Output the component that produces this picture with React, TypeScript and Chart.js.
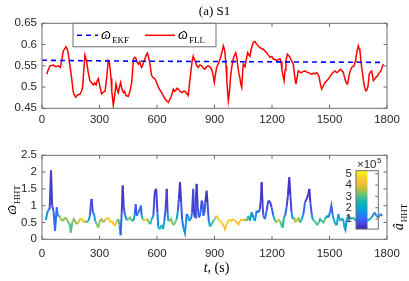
import React, { useEffect, useRef } from "react";
import { Chart, registerables } from "chart.js";
Chart.register(...registerables);

// ---------- data ----------
const X_TICKS = [0, 300, 600, 900, 1200, 1500, 1800];
const TOP_Y_TICKS = [0.45, 0.5, 0.55, 0.6, 0.65];
const BOT_Y_TICKS = [0, 0.5, 1, 1.5, 2, 2.5];
const CB_TICKS = [1, 2, 3, 4, 5];
const CB_MIN = 0.12;
const CB_MAX = 5.26;

const EKF_T = [0, 450, 900, 1350, 1780];
const EKF_V = [0.563, 0.561, 0.56, 0.559, 0.558];

const FLL_T = [25, 32, 42, 59, 72, 85, 96, 104, 111, 118, 125, 131, 137, 146, 155, 163, 170, 177, 186, 198, 206, 212, 218, 224, 233, 241, 250, 259, 268, 275, 282, 288, 294, 303, 311, 320, 329, 337, 346, 351, 355, 360, 364, 372, 379, 386, 392, 398, 404, 410, 417, 425, 431, 438, 450, 459, 468, 473, 477, 484, 490, 497, 503, 510, 515, 520, 526, 532, 537, 543, 550, 556, 561, 566, 572, 580, 590, 598, 607, 616, 624, 633, 642, 650, 659, 666, 673, 679, 685, 691, 697, 704, 711, 720, 729, 737, 746, 755, 763, 770, 777, 783, 789, 795, 802, 808, 815, 824, 833, 841, 850, 859, 868, 876, 885, 892, 899, 905, 911, 920, 929, 938, 946, 951, 955, 960, 964, 968, 972, 978, 985, 991, 998, 1004, 1011, 1016, 1020, 1026, 1033, 1038, 1042, 1046, 1050, 1055, 1059, 1066, 1073, 1080, 1085, 1092, 1102, 1111, 1120, 1129, 1138, 1146, 1155, 1163, 1172, 1181, 1190, 1199, 1207, 1216, 1224, 1233, 1242, 1247, 1252, 1258, 1263, 1268, 1273, 1280, 1287, 1294, 1302, 1311, 1316, 1320, 1325, 1330, 1337, 1346, 1355, 1363, 1372, 1381, 1390, 1398, 1407, 1416, 1425, 1433, 1440, 1446, 1452, 1459, 1468, 1477, 1486, 1494, 1503, 1511, 1520, 1529, 1537, 1546, 1552, 1558, 1565, 1572, 1577, 1581, 1587, 1594, 1599, 1603, 1610, 1616, 1622, 1629, 1634, 1638, 1644, 1650, 1655, 1659, 1663, 1668, 1673, 1677, 1683, 1689, 1695, 1700, 1704, 1707, 1713, 1720, 1725, 1729, 1735, 1742, 1748, 1755, 1762, 1768, 1775, 1781];
const FLL_V = [0.53, 0.54, 0.55, 0.552, 0.548, 0.55, 0.546, 0.565, 0.585, 0.59, 0.595, 0.59, 0.58, 0.55, 0.52, 0.488, 0.48, 0.476, 0.482, 0.483, 0.49, 0.5, 0.54, 0.575, 0.56, 0.535, 0.515, 0.51, 0.505, 0.51, 0.505, 0.515, 0.52, 0.5, 0.484, 0.488, 0.49, 0.52, 0.562, 0.558, 0.546, 0.52, 0.49, 0.457, 0.48, 0.507, 0.495, 0.487, 0.5, 0.511, 0.495, 0.487, 0.49, 0.48, 0.478, 0.49, 0.511, 0.54, 0.566, 0.57, 0.568, 0.558, 0.554, 0.56, 0.55, 0.546, 0.553, 0.56, 0.566, 0.575, 0.58, 0.57, 0.56, 0.545, 0.527, 0.522, 0.519, 0.51, 0.5, 0.493, 0.487, 0.48, 0.472, 0.468, 0.464, 0.47, 0.476, 0.485, 0.495, 0.49, 0.492, 0.497, 0.495, 0.49, 0.487, 0.49, 0.49, 0.485, 0.48, 0.51, 0.538, 0.56, 0.573, 0.565, 0.558, 0.55, 0.546, 0.552, 0.55, 0.545, 0.542, 0.548, 0.55, 0.547, 0.542, 0.53, 0.511, 0.53, 0.546, 0.555, 0.566, 0.58, 0.597, 0.59, 0.58, 0.55, 0.519, 0.49, 0.468, 0.49, 0.53, 0.55, 0.566, 0.575, 0.581, 0.57, 0.555, 0.535, 0.519, 0.505, 0.499, 0.53, 0.554, 0.55, 0.548, 0.565, 0.581, 0.575, 0.573, 0.59, 0.605, 0.607, 0.601, 0.596, 0.593, 0.59, 0.589, 0.585, 0.581, 0.575, 0.57, 0.572, 0.566, 0.565, 0.562, 0.565, 0.566, 0.56, 0.54, 0.525, 0.515, 0.54, 0.562, 0.577, 0.574, 0.57, 0.562, 0.554, 0.535, 0.52, 0.507, 0.52, 0.538, 0.535, 0.534, 0.537, 0.538, 0.535, 0.534, 0.532, 0.53, 0.533, 0.531, 0.534, 0.53, 0.523, 0.508, 0.495, 0.503, 0.511, 0.515, 0.519, 0.525, 0.53, 0.535, 0.538, 0.534, 0.536, 0.54, 0.542, 0.538, 0.535, 0.525, 0.519, 0.51, 0.507, 0.518, 0.53, 0.54, 0.546, 0.548, 0.55, 0.56, 0.57, 0.585, 0.597, 0.59, 0.585, 0.565, 0.546, 0.53, 0.515, 0.5, 0.491, 0.493, 0.5, 0.515, 0.53, 0.535, 0.538, 0.525, 0.515, 0.518, 0.523, 0.525, 0.53, 0.535, 0.538, 0.547, 0.554];

const HHT_T = [20, 30, 40, 47, 53, 60, 68, 77, 83, 94, 103, 111, 120, 129, 138, 146, 150, 158, 166, 172, 181, 190, 199, 207, 216, 224, 233, 242, 250, 255, 259, 265, 272, 277, 285, 294, 302, 311, 320, 329, 338, 346, 355, 364, 372, 381, 390, 398, 405, 410, 416, 421, 426, 432, 442, 450, 459, 468, 477, 484, 489, 494, 503, 511, 516, 520, 525, 533, 542, 550, 557, 565, 572, 581, 586, 590, 596, 602, 607, 614, 624, 632, 638, 645, 651, 655, 659, 666, 673, 680, 688, 694, 703, 709, 714, 720, 726, 731, 737, 746, 751, 755, 762, 768, 777, 783, 789, 794, 799, 803, 807, 812, 818, 824, 829, 833, 838, 842, 848, 852, 859, 864, 870, 877, 885, 894, 903, 911, 920, 929, 937, 946, 955, 963, 972, 981, 990, 998, 1007, 1016, 1025, 1033, 1042, 1050, 1059, 1068, 1077, 1085, 1094, 1103, 1111, 1120, 1129, 1137, 1142, 1146, 1151, 1155, 1163, 1172, 1181, 1190, 1198, 1207, 1216, 1225, 1233, 1242, 1250, 1256, 1262, 1268, 1276, 1283, 1290, 1296, 1302, 1308, 1316, 1322, 1329, 1338, 1346, 1355, 1364, 1372, 1381, 1390, 1395, 1400, 1407, 1412, 1420, 1428, 1436, 1444, 1451, 1459, 1468, 1477, 1486, 1494, 1503, 1510, 1516, 1522, 1530, 1538, 1546, 1552, 1558, 1566, 1572, 1578, 1583, 1590, 1600, 1610, 1620, 1640, 1660, 1680, 1700, 1720, 1735, 1745, 1755, 1765, 1775];
const HHT_V = [0.57, 0.85, 0.9, 2.05, 1.0, 0.85, 0.25, 0.95, 0.7, 0.68, 0.55, 0.57, 0.65, 0.6, 0.5, 0.42, 0.2, 0.5, 0.6, 0.55, 0.45, 0.5, 0.6, 0.62, 0.5, 0.55, 0.5, 0.55, 0.7, 1.05, 1.2, 0.8, 0.75, 0.55, 0.45, 0.35, 0.55, 0.6, 0.5, 0.58, 0.62, 0.65, 0.5, 0.55, 0.45, 0.4, 0.55, 0.6, 0.4, 0.12, 0.8, 1.6, 1.0, 0.75, 0.57, 0.6, 0.65, 0.55, 0.55, 0.75, 1.05, 0.7, 0.8, 0.9, 1.0, 0.7, 0.6, 0.55, 0.6, 0.6, 0.5, 0.45, 0.6, 0.7, 1.2, 1.45, 1.5, 0.8, 0.35, 0.3, 0.42, 0.3, 0.55, 0.9, 1.5, 0.8, 0.55, 0.55, 0.6, 0.48, 0.42, 0.5, 0.6, 0.85, 1.2, 1.7, 1.1, 0.6, 0.35, 0.18, 0.5, 0.75, 0.7, 0.55, 0.6, 0.8, 1.5, 0.7, 0.65, 1.2, 1.65, 1.0, 0.65, 0.7, 0.9, 1.15, 1.1, 0.7, 0.8, 1.1, 1.45, 1.05, 0.55, 0.38, 0.45, 0.55, 0.62, 0.7, 0.6, 0.55, 0.5, 0.42, 0.3, 0.45, 0.55, 0.58, 0.55, 0.6, 0.55, 0.5, 0.45, 0.55, 0.6, 0.55, 0.6, 0.55, 0.7, 0.55, 0.8, 0.65, 0.55, 0.85, 0.8, 0.9, 1.2, 1.7, 1.0, 0.7, 0.6, 0.85, 1.15, 1.12, 0.95, 0.7, 0.55, 0.5, 0.6, 0.55, 0.4, 0.35, 0.65, 0.7, 0.95, 1.3, 1.85, 1.3, 0.8, 0.6, 0.65, 0.5, 0.55, 0.65, 0.5, 0.6, 0.75, 1.1, 1.2, 1.35, 1.5, 1.1, 0.75, 0.6, 0.55, 0.5, 0.42, 0.5, 0.6, 0.55, 0.5, 0.6, 0.7, 0.65, 0.8, 1.0, 0.75, 0.6, 0.45, 0.42, 0.75, 0.6, 0.55, 0.62, 0.58, 0.35, 0.28, 0.6, 0.7, 0.6, 0.65, 0.55, 0.7, 0.6, 0.55, 0.65, 0.8, 0.7, 0.65, 0.75, 0.7];
const HHT_A = [2.4, 1.3, 0.8, 0.3, 0.5, 0.8, 1.2, 0.9, 1.5, 3.4, 3.6, 3.3, 3.6, 3.4, 3.2, 3.0, 2.8, 3.2, 3.6, 3.2, 3.6, 3.6, 4.4, 4.8, 4.3, 3.6, 3.4, 2.6, 1.2, 0.6, 0.4, 0.8, 1.2, 2.6, 3.2, 3.4, 3.6, 3.4, 3.6, 3.5, 4.2, 4.6, 4.8, 4.4, 4.2, 4.6, 3.6, 3.4, 2.4, 1.2, 0.6, 0.3, 0.5, 1.0, 2.6, 3.2, 3.4, 3.2, 2.8, 1.2, 0.6, 1.2, 1.3, 1.0, 0.6, 1.5, 3.5, 4.5, 4.2, 3.2, 3.2, 3.0, 2.6, 1.2, 0.4, 0.3, 0.3, 0.8, 2.2, 2.4, 2.8, 2.6, 1.2, 0.7, 0.3, 0.8, 2.8, 3.2, 3.4, 3.2, 3.2, 3.4, 3.0, 1.0, 0.5, 0.3, 0.5, 1.0, 1.4, 2.2, 1.4, 1.2, 1.2, 2.4, 2.2, 0.8, 0.3, 0.8, 1.0, 0.4, 0.3, 0.5, 1.0, 1.4, 0.8, 0.5, 0.6, 1.2, 1.0, 0.5, 0.3, 0.5, 1.2, 2.4, 2.8, 3.0, 3.2, 4.2, 4.6, 4.6, 4.4, 4.4, 4.2, 4.4, 4.8, 4.6, 4.4, 4.6, 4.2, 4.4, 4.2, 4.4, 4.6, 4.0, 3.6, 3.6, 2.8, 2.6, 1.4, 1.5, 2.4, 1.0, 1.0, 0.8, 0.4, 0.3, 0.5, 1.0, 1.2, 0.9, 0.4, 0.5, 0.6, 1.4, 3.2, 3.4, 4.4, 3.2, 3.2, 2.8, 2.2, 1.2, 0.8, 0.4, 0.3, 0.4, 0.8, 2.2, 3.0, 3.6, 4.6, 3.6, 3.0, 2.4, 1.3, 0.6, 0.4, 0.3, 0.3, 0.5, 1.2, 2.4, 3.0, 3.2, 3.0, 2.8, 2.6, 2.8, 3.2, 2.8, 2.2, 1.4, 1.2, 0.7, 1.2, 2.2, 2.6, 3.0, 1.4, 2.4, 2.6, 2.2, 2.4, 2.2, 1.4, 2.2, 1.4, 2.4, 2.2, 2.6, 1.4, 2.4, 2.6, 2.2, 1.2, 1.4, 2.2, 1.3, 1.4];

// ---------- style ----------
const TICK_FONT = { family: "'Liberation Sans', Arial, sans-serif", size: 11.5 };
const TICK_COLOR = "#262626";
const BOX_COLOR = "#6e6e6e";
const SERIF = "'Liberation Serif', 'DejaVu Serif', serif";

const PARULA: [number, number[]][] = [
  [0, [62, 38, 168]],
  [0.1, [71, 72, 225]],
  [0.2, [44, 115, 246]],
  [0.3, [20, 148, 225]],
  [0.4, [8, 172, 200]],
  [0.5, [40, 185, 165]],
  [0.6, [110, 195, 115]],
  [0.7, [200, 190, 60]],
  [0.8, [252, 190, 50]],
  [0.9, [245, 215, 40]],
  [1, [249, 251, 14]],
];
function parula(t: number) {
  t = Math.max(0, Math.min(1, t));
  for (let i = 1; i < PARULA.length; i++) {
    const [t1, c1] = PARULA[i];
    const [t0, c0] = PARULA[i - 1];
    if (t <= t1) {
      const f = (t - t0) / (t1 - t0);
      const c = c0.map((v, k) => Math.round(v + (c1[k] - v) * f));
      return `rgb(${c[0]},${c[1]},${c[2]})`;
    }
  }
  return "rgb(249,251,14)";
}
const ampColor = (a: number) => parula((a - CB_MIN) / (CB_MAX - CB_MIN));

function mathText(ctx: CanvasRenderingContext2D, x: number, y: number, main: string, sub: string, size: number, align: "left" | "center", hat: boolean) {
  const mf = `italic ${size}px ${SERIF}`;
  const sf = `${Math.round(size * 0.62)}px ${SERIF}`;
  ctx.font = mf;
  const w1 = ctx.measureText(main).width;
  ctx.font = sf;
  const w2 = ctx.measureText(sub).width;
  const x0 = align === "center" ? x - (w1 + w2 + 1) / 2 : x;
  ctx.textBaseline = "alphabetic";
  ctx.textAlign = "left";
  ctx.font = mf;
  ctx.fillText(main, x0, y);
  if (hat) {
    ctx.textAlign = "center";
    ctx.font = `${size * 1.1}px ${SERIF}`;
    ctx.fillText("\u02c6", x0 + w1 / 2 + size * 0.06, y + size * 0.12);
    ctx.textAlign = "left";
  }
  ctx.font = sf;
  ctx.fillText(sub, x0 + w1 + 1, y + size * 0.28);
  return w1 + w2 + 1;
}

function boxPlugin(id: string, tl: number, sides: { x?: boolean; y?: boolean; yRightOnly?: boolean }) {
  return {
    id,
    afterDatasetsDraw(chart: any) {
      const { ctx, chartArea: a, scales } = chart;
      ctx.save();
      ctx.strokeStyle = BOX_COLOR;
      ctx.lineWidth = 1;
      ctx.strokeRect(a.left, a.top, a.right - a.left, a.bottom - a.top);
      ctx.beginPath();
      if (sides.x && scales.x) {
        scales.x.ticks.forEach((t: any) => {
          const px = scales.x.getPixelForValue(t.value);
          ctx.moveTo(px, a.bottom);
          ctx.lineTo(px, a.bottom - tl);
          ctx.moveTo(px, a.top);
          ctx.lineTo(px, a.top + tl);
        });
      }
      if (sides.y && scales.y) {
        scales.y.ticks.forEach((t: any) => {
          const py = scales.y.getPixelForValue(t.value);
          if (!sides.yRightOnly) {
            ctx.moveTo(a.left, py);
            ctx.lineTo(a.left + tl, py);
          }
          ctx.moveTo(a.right, py);
          ctx.lineTo(a.right - tl, py);
        });
      }
      ctx.stroke();
      ctx.restore();
    },
  };
}

const xScale = (h: number, pad: number) => ({
  type: "linear" as const,
  min: 0,
  max: 1800,
  afterBuildTicks: (s: any) => {
    s.ticks = X_TICKS.map((v) => ({ value: v }));
  },
  afterFit: (s: any) => {
    s.height = h;
  },
  grid: { display: false, drawTicks: false },
  border: { display: false },
  ticks: {
    font: TICK_FONT,
    color: TICK_COLOR,
    padding: pad,
    maxRotation: 0,
    autoSkip: false,
    callback: (v: any) => String(v),
  },
});

const yScale = (min: number, max: number, ticks: number[], w: number, pad: number) => ({
  type: "linear" as const,
  min,
  max,
  afterBuildTicks: (s: any) => {
    s.ticks = ticks.map((v) => ({ value: v }));
  },
  afterFit: (s: any) => {
    s.width = w;
  },
  grid: { display: false, drawTicks: false },
  border: { display: false },
  ticks: {
    font: TICK_FONT,
    color: TICK_COLOR,
    padding: pad,
    autoSkip: false,
    callback: (v: any) => String(v),
  },
});

export default function App() {
  const topRef = useRef<HTMLCanvasElement>(null);
  const botRef = useRef<HTMLCanvasElement>(null);
  const cbRef = useRef<HTMLCanvasElement>(null);

  useEffect(() => {
    const charts: Chart[] = [];

    // ---------- top chart ----------
    const topTitle = {
      id: "topTitle",
      afterDraw(chart: any) {
        const { ctx, chartArea: a } = chart;
        ctx.save();
        ctx.fillStyle = "#000";
        ctx.font = `13px ${SERIF}`;
        ctx.textAlign = "center";
        ctx.textBaseline = "middle";
        ctx.fillText("(a) S1", (a.left + a.right) / 2, 12);
        ctx.restore();
      },
    };
    const topLegend = {
      id: "topLegend",
      afterDraw(chart: any) {
        const { ctx, chartArea: a } = chart;
        const ds = chart.data.datasets;
        const L = a.left + 31;
        const T = a.top;
        const W = 143;
        const H = 23.5;
        ctx.save();
        ctx.fillStyle = "#fff";
        ctx.fillRect(L, T, W, H);
        ctx.strokeStyle = BOX_COLOR;
        ctx.lineWidth = 1;
        ctx.strokeRect(L, T, W, H);
        const cy = T + 12;
        const items = [
          { d: ds[0], x: L + 4, len: 21, sub: "EKF" },
          { d: ds[1], x: L + 72, len: 30, sub: "FLL" },
        ];
        items.forEach((it) => {
          ctx.beginPath();
          ctx.strokeStyle = it.d.borderColor;
          ctx.lineWidth = it.d.borderWidth;
          ctx.setLineDash(it.d.borderDash || []);
          ctx.moveTo(it.x, cy);
          ctx.lineTo(it.x + it.len, cy);
          ctx.stroke();
          ctx.setLineDash([]);
          ctx.fillStyle = "#000";
          mathText(ctx, it.x + it.len + 3, cy + 4, "ω", it.sub, 14, "left", true);
        });
        ctx.restore();
      },
    };
    charts.push(
      new Chart(topRef.current!, {
        type: "line",
        data: {
          datasets: [
            {
              label: "EKF",
              data: EKF_T.map((t, i) => ({ x: t, y: EKF_V[i] })),
              borderColor: "#0000ff",
              borderWidth: 1.6,
              borderDash: [5, 4],
              pointRadius: 0,
              fill: false,
            },
            {
              label: "FLL",
              data: FLL_T.map((t, i) => ({ x: t, y: FLL_V[i] })),
              borderColor: "#ff0000",
              borderWidth: 1.5,
              pointRadius: 0,
              fill: false,
            },
          ] as any,
        },
        options: {
          responsive: false,
          animation: false,
          devicePixelRatio: 1,
          layout: { padding: { top: 23.3, right: 22, left: 0, bottom: 0 } },
          plugins: { legend: { display: false }, tooltip: { enabled: false }, title: { display: false } },
          scales: {
            x: xScale(26.7, 5),
            y: yScale(0.45, 0.65, TOP_Y_TICKS, 42, 5),
          } as any,
        },
        plugins: [boxPlugin("topBox", 3.5, { x: true, y: true }), topTitle, topLegend],
      })
    );

    // ---------- bottom chart ----------
    const botLabels = {
      id: "botLabels",
      afterDraw(chart: any) {
        const { ctx, chartArea: a } = chart;
        ctx.save();
        ctx.fillStyle = "#000";
        // y label
        ctx.save();
        ctx.translate(16, 60);
        ctx.rotate(-Math.PI / 2);
        mathText(ctx, 0, 0, "ω", "HHT", 14, "center", true);
        ctx.restore();
        // colorbar label
        ctx.save();
        ctx.translate(403, 77);
        ctx.rotate(-Math.PI / 2);
        mathText(ctx, 0, 0, "\u00e2", "HHT", 14, "center", false);
        ctx.restore();
        // x label
        const cx = (a.left + a.right) / 2;
        ctx.font = `italic 14px ${SERIF}`;
        const w1 = ctx.measureText("t").width;
        ctx.font = `14px ${SERIF}`;
        const w2 = ctx.measureText(", (s)").width;
        const x0 = cx - (w1 + w2) / 2 + 2;
        ctx.textBaseline = "alphabetic";
        ctx.textAlign = "left";
        ctx.font = `italic 14px ${SERIF}`;
        ctx.fillText("t", x0, 132);
        ctx.font = `14px ${SERIF}`;
        ctx.fillText(", (s)", x0 + w1, 132);
        ctx.restore();
      },
    };
    charts.push(
      new Chart(botRef.current!, {
        type: "line",
        data: {
          datasets: [
            {
              label: "HHT",
              data: HHT_T.map((t, i) => ({ x: t, y: HHT_V[i] })),
              borderColor: ampColor(HHT_A[0]),
              borderWidth: 2,
              pointRadius: 0,
              fill: false,
              segment: {
                borderColor: (c: any) => ampColor((HHT_A[c.p0DataIndex] + HHT_A[c.p1DataIndex]) / 2),
              },
            },
          ] as any,
        },
        options: {
          responsive: false,
          animation: false,
          devicePixelRatio: 1,
          layout: { padding: { top: 15.3, right: 22, left: 0, bottom: 0 } },
          plugins: { legend: { display: false }, tooltip: { enabled: false } },
          scales: {
            x: xScale(41.7, 8),
            y: yScale(0, 2.5, BOT_Y_TICKS, 42, 5),
          } as any,
        },
        plugins: [boxPlugin("botBox", 3.5, { x: true, y: true }), botLabels],
      })
    );

    // ---------- colorbar ----------
    const cbExp = {
      id: "cbExp",
      afterDraw(chart: any) {
        const { ctx, chartArea: a } = chart;
        ctx.save();
        ctx.fillStyle = TICK_COLOR;
        ctx.textBaseline = "alphabetic";
        ctx.textAlign = "left";
        ctx.font = `11.5px 'Liberation Sans', Arial, sans-serif`;
        const w = ctx.measureText("×10").width;
        const x0 = a.left + 1;
        ctx.fillText("×10", x0, a.top - 2.5);
        ctx.font = `8px 'Liberation Sans', Arial, sans-serif`;
        ctx.fillText("5", x0 + w + 0.5, a.top - 7.5);
        ctx.restore();
      },
    };
    charts.push(
      new Chart(cbRef.current!, {
        type: "bar",
        data: {
          labels: [""],
          datasets: [
            {
              data: [[CB_MIN, CB_MAX]],
              barPercentage: 1,
              categoryPercentage: 1,
              borderWidth: 0,
              backgroundColor: (c: any) => {
                const area = c.chart.chartArea;
                if (!area) return "#3e26a8";
                const g = c.chart.ctx.createLinearGradient(0, area.bottom, 0, area.top);
                PARULA.forEach(([t, col]) => g.addColorStop(t, `rgb(${col[0]},${col[1]},${col[2]})`));
                return g;
              },
            },
          ] as any,
        },
        options: {
          responsive: false,
          animation: false,
          devicePixelRatio: 1,
          layout: { padding: { top: 20.7, right: 9.7, left: 0, bottom: 5 } },
          plugins: { legend: { display: false }, tooltip: { enabled: false } },
          scales: {
            x: { display: false, offset: false, grid: { display: false } },
            y: yScale(CB_MIN, CB_MAX, CB_TICKS, 30, 4),
          } as any,
        },
        plugins: [boxPlugin("cbBox", 3, { y: true, yRightOnly: true }), cbExp],
      })
    );

    return () => charts.forEach((c) => c.destroy());
  }, []);

  return (
    <div style={{ position: "absolute", left: 0, top: 0, width: 409, height: 281, background: "#fff", overflow: "hidden" }}>
      <canvas ref={topRef} width={409} height={135} style={{ position: "absolute", left: 0, top: 0, width: 409, height: 135 }} />
      <canvas ref={botRef} width={409} height={141} style={{ position: "absolute", left: 0, top: 140, width: 409, height: 141 }} />
      <canvas ref={cbRef} width={62} height={90} style={{ position: "absolute", left: 326, top: 150, width: 62, height: 90 }} />
    </div>
  );
}
